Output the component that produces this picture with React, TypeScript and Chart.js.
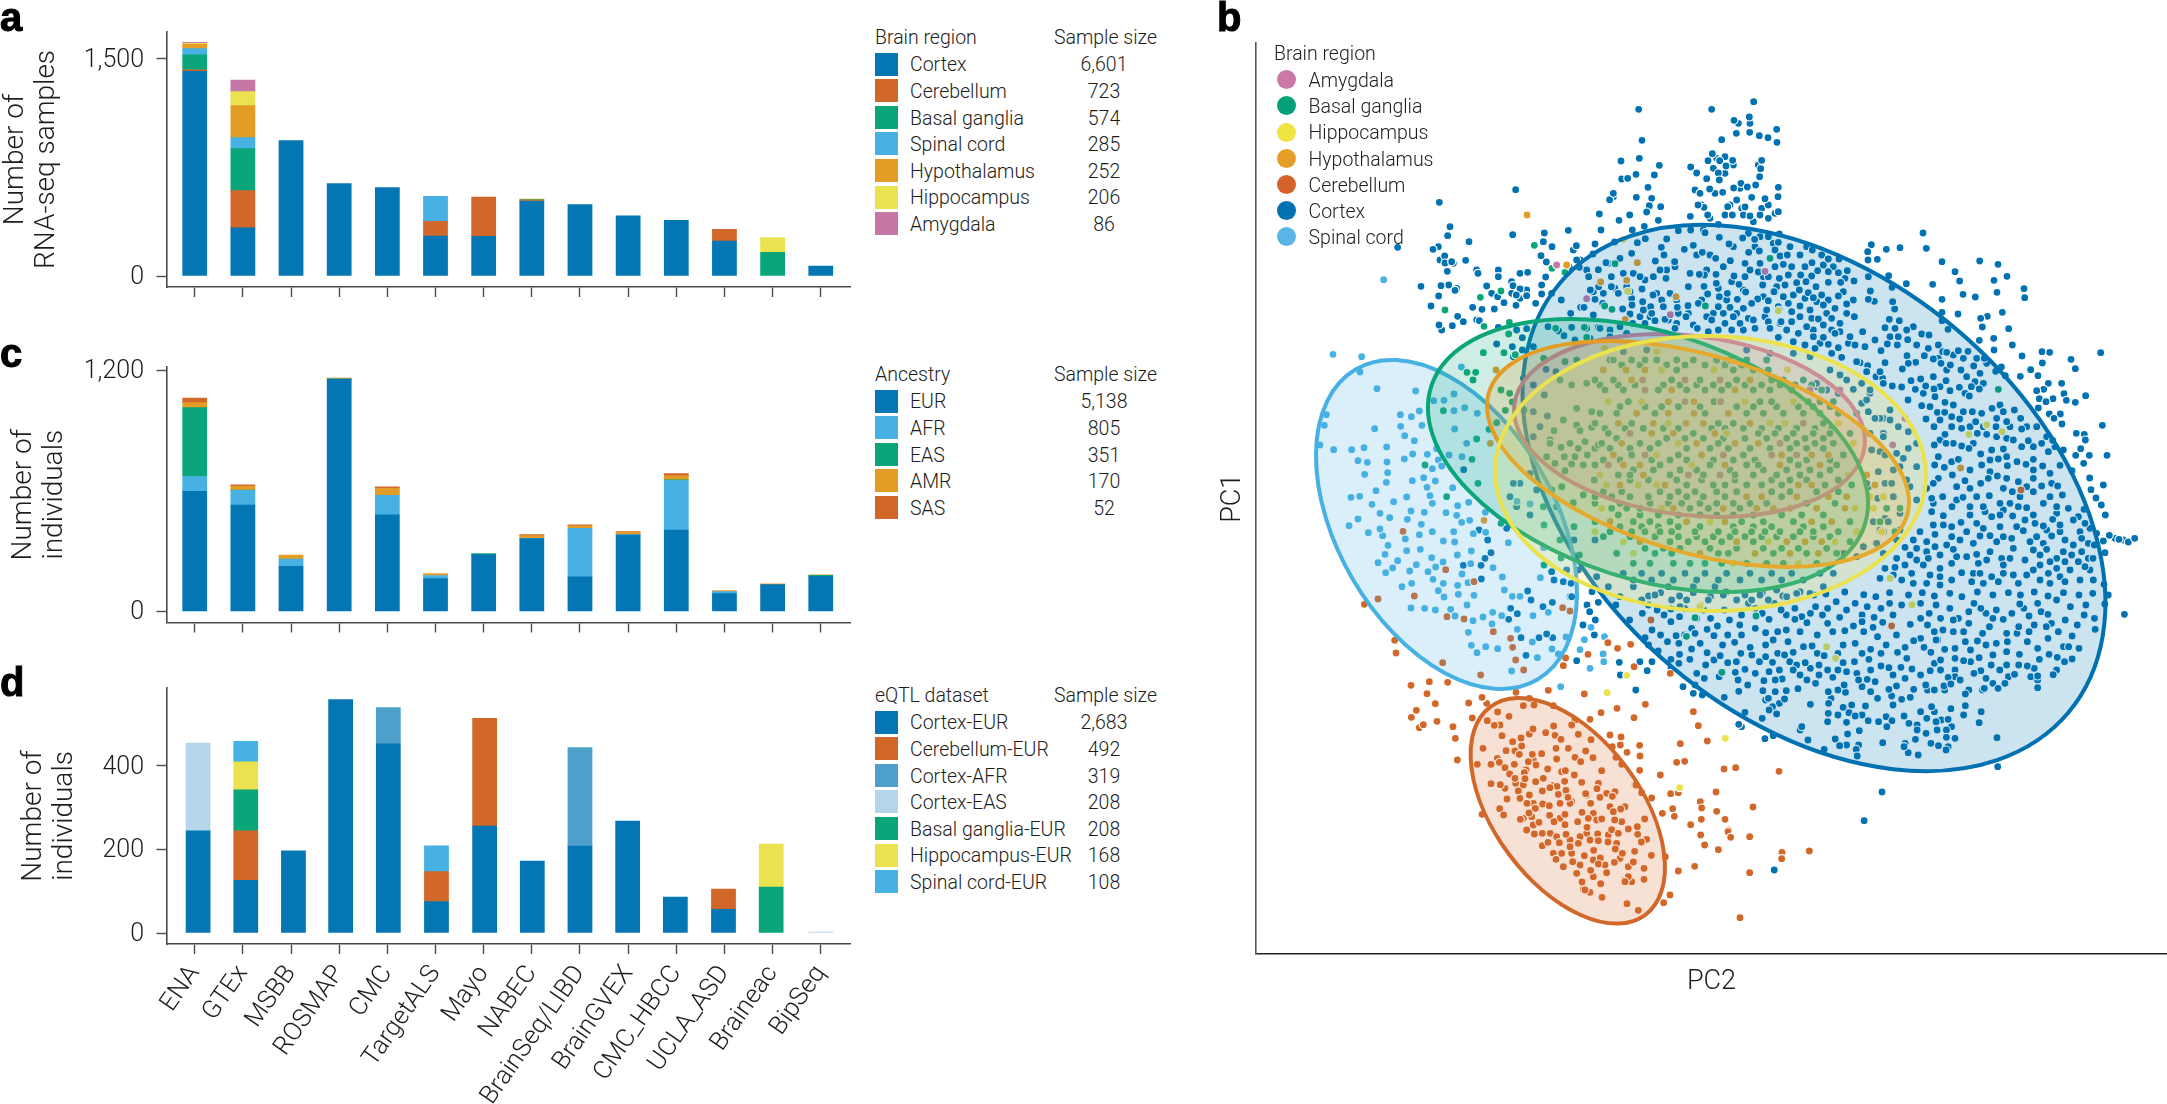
import React, { useEffect, useRef } from "react";
import { Chart, registerables } from "chart.js";

Chart.register(...registerables);

const INK = "#1d1d1b";
const AXIS = "#4a4a4a";
const BLUE = "#0376B3";
const RUST = "#D2672A";
const GREEN = "#0AA679";
const SKY = "#48B1E3";
const AMBER = "#E39C25";
const YELLOW = "#EAE24F";
const MAUVE = "#C578A5";
const AFR_BLUE = "#4F9FCB";
const EAS_BLUE = "#B5D5E8";

const categories = ["ENA", "GTEx", "MSBB", "ROSMAP", "CMC", "TargetALS", "Mayo", "NABEC", "BrainSeq/LIBD", "BrainGVEX", "CMC_HBCC", "UCLA_ASD", "Braineac", "BipSeq"];

// Panel a
const aCortex = [1415, 332, 935, 638, 611, 276, 274, 516, 493, 415, 385, 242, 0, 69];
const aCerebellum = [9, 258, 0, 0, 0, 102, 272, 5, 0, 0, 0, 81, 0, 0];
const aBasal = [104, 290, 0, 0, 0, 0, 0, 6, 0, 0, 0, 0, 164, 0];
const aSpinal = [43, 76, 0, 0, 0, 173, 0, 0, 0, 0, 0, 0, 0, 0];
const aHypothalamus = [30, 221, 0, 0, 0, 0, 0, 5, 0, 0, 0, 0, 0, 0];
const aHippocampus = [7, 97, 0, 0, 0, 0, 0, 0, 0, 0, 0, 0, 101, 0];
const aAmygdala = [7, 79, 0, 0, 0, 0, 0, 0, 0, 0, 0, 0, 0, 0];

// Panel c
const cEUR = [597, 529, 225, 1154, 481, 164, 283, 362, 172, 380, 405, 89, 134, 175];
const cAFR = [74, 73, 36, 0, 96, 15, 0, 2, 241, 2, 246, 10, 0, 0];
const cEAS = [342, 2, 0, 2, 0, 0, 5, 0, 0, 0, 4, 0, 0, 5];
const cAMR = [25, 19, 20, 2, 35, 9, 0, 13, 13, 13, 19, 5, 2, 2];
const cSAS = [23, 7, 0, 2, 8, 0, 0, 5, 5, 2, 12, 0, 1, 0];

// Panel d
const dBarPositions = [0.07, 1.06, 2.05, 3.03, 4.02, 5.02, 6.02, 7.01, 8, 8.99, 9.98, 10.98, 11.97, 13];
const dCortexEUR = [245, 126, 197, 559, 453, 75, 256, 172, 208, 268, 86, 57, 0, 0];
const dCerebellumEUR = [0, 119, 0, 0, 0, 72, 258, 0, 0, 0, 0, 48, 0, 0];
const dCortexAFR = [0, 0, 0, 0, 87, 0, 0, 0, 236, 0, 0, 0, 0, 0];
const dCortexEAS = [210, 0, 0, 0, 0, 0, 0, 0, 0, 0, 0, 0, 0, 2];
const dBasalEUR = [0, 98, 0, 0, 0, 0, 0, 0, 0, 0, 0, 0, 110, 0];
const dHippocampusEUR = [0, 67, 0, 0, 0, 0, 0, 0, 0, 0, 0, 0, 103, 0];
const dSpinalEUR = [0, 49, 0, 0, 0, 62, 0, 0, 0, 0, 0, 0, 0, 0];

// Legends
const aLegendNames = ["Cortex", "Cerebellum", "Basal ganglia", "Spinal cord", "Hypothalamus", "Hippocampus", "Amygdala"];
const aLegendSizes = ["6,601", "723", "574", "285", "252", "206", "86"];
const aLegendColors = [BLUE, RUST, GREEN, SKY, AMBER, YELLOW, MAUVE];
const cLegendNames = ["EUR", "AFR", "EAS", "AMR", "SAS"];
const cLegendSizes = ["5,138", "805", "351", "170", "52"];
const cLegendColors = [BLUE, SKY, GREEN, AMBER, RUST];
const dLegendNames = ["Cortex-EUR", "Cerebellum-EUR", "Cortex-AFR", "Cortex-EAS", "Basal ganglia-EUR", "Hippocampus-EUR", "Spinal cord-EUR"];
const dLegendSizes = ["2,683", "492", "319", "208", "208", "168", "108"];
const dLegendColors = [BLUE, RUST, AFR_BLUE, EAS_BLUE, GREEN, YELLOW, SKY];
const bLegendNames = ["Amygdala", "Basal ganglia", "Hippocampus", "Hypothalamus", "Cerebellum", "Cortex", "Spinal cord"];
const bLegendColors = ["#CB78A8", "#04A077", "#F0E442", "#E69F26", "#D5622A", "#0072B2", "#5BB4E6"];

// Panel b: ellipses [centre PC2, centre PC1, long radius, short radius, tilt in degrees]
const ellipseCerebellum = [1567.8, 810.8, 129.7, 73.1, 53.3];
const ellipseCortex = [1814, 498, 332.8, 220.8, 40.2];
const ellipseSpinal = [1446.5, 524.5, 179.8, 108.5, 59.6];
const ellipseAmygdala = [1689.5, 425.5, 176.4, 89.7, 6.8];
const ellipseBasal = [1648, 455.5, 227.5, 123.7, 17.6];
const ellipseHypothalamus = [1698, 454, 217.9, 98.9, 16.3];
const ellipseHippocampus = [1710.5, 473.5, 215.5, 137.5, 1];

const cortexUpper = [836,58,1055,58,1181,35,1168,81,1122,91,1129,130,1169,127,1198,137,1224,143,1250,118,1251,157,1085,149,846,151,838,205,783,213,898,226,883,255,828,253,785,267,803,265,992,231,1010,249,1057,191,1044,212,1079,212,1118,211,1098,228,1075,249,1040,266,1078,270,1202,236,1205,211,1199,260,1143,280,1162,291,1187,285,1121,294,1049,297,1088,307,1020,310,1255,292,1254,320,864,292,829,322,875,325,749,329,760,310,868,347,902,350,860,366,809,375,718,372,777,391,895,391,853,409,817,420,723,420,705,462,764,456,625,421,649,467,553,429,550,455,576,470,458,434,467,299,238,337,113,472,219,478,263,437,327,455,254,498,255,519,275,515,317,511,262,544,354,550,415,560,503,547,183,589,266,585,243,587,285,601,236,618,213,648,380,588,459,587,480,597,413,620,500,617,545,585,557,561,338,652,366,658,403,657,432,638,468,646,469,615,527,640,545,612,293,679,310,695,237,705,277,707,358,692,543,497,559,516,575,610,604,630,991,379,1043,375,1032,352,1014,345,1103,350,1155,351,1130,330,1175,322,1215,326,1117,375,1170,378,1200,375,1225,385,1255,365,1075,403,
955,422,992,420,1035,428,1078,442,1107,462,1148,444,1184,448,1225,440,1258,432,920,447,856,446,832,458,904,472,973,478,1000,466,1027,487,1067,505,1111,512,1166,487,1198,483,1155,520,1245,480,912,495,886,513,944,515,815,490,780,505,738,518,699,492,1200,520,1245,530,1033,555,990,550,1018,553,1068,553,1122,558,1155,560,1195,546,1225,560,918,565,880,560,840,560,790,550,754,560,715,539,686,560,658,532,627,530,985,590,1032,589,1069,580,1137,583,1208,585,1250,590,1102,610,1157,606,1193,627,1225,632,1132,628,1078,620,1043,612,905,630,879,615,846,597,810,605,775,610,754,590,716,590,691,600,728,640,705,628,662,652,632,670,672,652,700,675,788,657,848,635,850,660,816,645,810,672,872,650,910,650,952,652,984,647,978,680,950,700,915,688,885,692,875,670,1015,640,1075,650,1110,652,1150,655,1175,640,1220,660,1255,650,1120,680,1055,690,1095,700,1140,700,1180,690,1225,695,1012,715,1075,720,1115,720,1185,715,1230,715,1260,700,945,715,855,700,818,700,780,710,750,720,715,712,680,715,636,712,596,723,
415,712,487,743,500,716,470,720,410,762,457,770,487,780,460,800,635,712,564,710,612,737,645,750,690,745,720,715,750,740,800,730,520,770];

// partly hidden dots: the crescents showing behind the dots above
const cortexUpperHidden = [1135,100,1170,100,1070,205,1095,200,1120,225,1060,235,1095,250,1195,225,1140,295,1005,300,1065,310,1110,345,1145,355,1025,345,1050,385,1095,375,1150,375,1205,355,1225,345,1245,370,1180,395,1030,420,1165,430,1200,440,1185,470,1240,460,1120,470,1050,495,1010,495,870,350,790,265,760,320,640,480,660,510,350,540,270,410,240,510,280,520,235,470,480,550,455,575,500,600,290,595,350,690,245,720,415,540,395,610,455,610,480,625,
1040,540,1090,530,1170,540,1210,560,1075,595,1115,575,1150,600,1210,620,1245,605,1100,630,1025,630,1060,670,1040,680,1090,670,1130,670,1165,685,1215,680,950,630,930,610,955,670,985,670,925,690,840,680,870,680,815,625,765,595,730,610,800,590,920,540,900,540,945,530,855,570,890,610,820,550,745,520,680,540,650,510,700,605,720,575,1000,705,1045,725,1150,720];

const cortexRight = [459,9,304,44,349,58,390,53,469,55,293,65,322,88,294,90,516,95,629,93,684,103,555,125,569,153,711,139,672,151,488,163,409,161,762,176,681,187,579,193,616,201,764,203,516,208,313,214,295,208,301,183,356,137,366,172,374,237,368,215,564,252,516,247,516,272,697,247,652,259,632,265,637,291,716,296,534,298,671,325,628,331,727,345,672,360,756,378,816,365,839,367,992,368,903,388,817,399,916,416,782,419,643,385,694,411,677,424,706,437,751,439,804,437,835,460,875,460,821,478,800,482,882,491,947,497,849,506,808,506,828,515,916,517,889,511,805,534,838,552,871,552,852,565,876,582,997,586,919,610,943,613,946,630,848,631,880,660,932,656,917,676,958,676,1011,676,871,703,941,700,906,722,959,744,1000,765,963,779,978,804,877,795,863,768,994,825,1006,855,942,838,980,910,1000,933,1018,916,1075,936,1094,925,1047,928,973,945,1005,968,969,985,1002,1063,
25,37,30,78,52,75,90,75,127,60,175,87,207,87,126,98,40,103,28,145,55,135,92,135,125,138,143,122,175,125,205,128,232,122,252,153,295,140,12,185,45,165,80,158,108,155,138,170,175,157,212,157,88,180,115,188,155,195,205,198,250,210,55,220,90,228,130,203,120,240,160,225,195,235,230,222,28,240,230,250,253,260,33,275,65,275,145,267,185,265,110,290,160,285,210,305,240,320,50,300,85,310,130,320,160,322,195,310,278,305,358,268,388,272,345,293,315,330,385,320,413,329,455,312,477,315,352,342,382,345,25,322,105,345,175,343,205,353,255,345,285,350,333,362,135,355,215,382,185,370,270,398,293,407,345,398,411,377,463,377,490,387,518,365,565,362,594,364,530,367,437,397,415,400,397,417,318,440,338,445,423,452,452,447,467,468,541,405,573,420,611,408,513,400,630,430,367,468,395,471,436,478,492,477,528,452,568,472,604,470,628,477,540,482,495,500,598,498,414,510,455,527,525,517,550,525,607,545,700,545,733,540,666,535,502,547,524,547,468,567,569,567,617,575,680,565,752,565,710,575,492,590,575,595,622,610,650,613,678,590,755,597,800,590,525,613,575,648,597,655,665,660,632,672,700,657,730,630,775,632,815,640,493,645,528,640,835,665,494,705,523,712,565,688,635,705,685,687,712,707,741,695,790,688,768,703,818,708,870,706,547,735,585,752,632,760,682,738,655,745,790,745,745,755,815,768,470,775,490,760,518,800,579,802,620,800,658,797,700,775,840,800,790,785,750,800,727,785,485,805,546,830,600,830,640,830,690,820,720,820,770,833,820,820,860,830,895,835,910,870,848,868,728,858,690,855,485,845,520,857,573,877,620,880,665,860,765,870,795,880,820,888,870,885,945,880,450,905,490,885,520,885,590,905,630,918,660,917,700,920,760,902,800,920,845,918,885,930,935,925,495,913,430,930,470,935,545,920,570,930,405,952,440,955,495,950,550,958,620,973,660,965,695,985,730,955,790,960,830,958,880,965,935,965,380,985,420,975,475,985,510,975,590,980,765,990,840,995,885,995,925,995,405,1005,460,1005,545,1000,625,1000,700,1005,810,1005,345,1015,375,1012,425,1030,480,1035,510,1015,575,1028,630,1030,665,1040,730,1035,770,1035,835,1030,870,1040,945,1010,330,1045,395,1050,470,1060,545,1050,605,1055,685,1055,810,1050,885,1055,930,1050,970,1050];

const cortexRightHidden = [60,50,110,50,155,75,65,110,105,110,160,105,190,110,225,145,70,195,105,205,140,215,175,210,220,185,40,200,65,245,90,260,125,265,170,250,210,280,130,300,185,300,70,335,150,340,235,340,375,295,430,290,360,320,410,300,440,345,475,355,505,345,505,385,550,375,580,385,620,385,530,420,590,440,650,400,490,440,460,490,510,470,585,490,615,455,640,460,480,530,510,570,545,560,580,545,635,550,690,525,720,590,770,590,640,590,600,590,545,590,510,630,550,640,610,640,680,620,710,625,755,650,790,650,830,620,855,650,505,680,545,695,600,720,660,690,660,725,710,680,790,720,840,730,845,760,770,770,710,745,600,775,560,770,505,745,490,820,560,810,600,855,645,845,700,840,745,830,790,855,860,850,925,860,960,895,930,905,870,905,830,900,740,890,690,890,640,895,545,890,610,940,680,935,725,925,780,935,820,940,910,945,955,940,530,945,470,965,560,980,650,990,720,985,810,975,860,985,905,975,955,985,440,990,510,1040,610,1030,700,1030,790,1020,860,1015,900,1020,960,1020,745,1060,840,1060,640,1060,370,1035,430,1060,510,1065,1035,925,1060,930];

const cortexLower = [25,37,75,45,152,70,115,90,195,60,235,57,275,55,330,60,295,115,340,118,370,108,405,90,435,105,480,55,520,88,555,60,595,88,595,55,630,98,640,70,675,75,725,82,770,40,715,35,765,108,795,125,825,82,845,55,850,97,822,112,905,45,930,103,985,70,1018,85,1045,55,1100,65,1135,55,1170,85,1200,88,1180,60,1248,42,1275,78,1310,65,1355,30,1380,90,1415,105,1465,85,1505,15,1495,42,1467,118,1552,73,1330,73,1245,110,1290,105,1160,110,1100,100,1025,120,1085,125,980,105,235,95,180,120,205,135,250,137,160,143,305,130,360,137,400,135,420,157,465,172,510,128,510,165,532,150,575,155,545,125,660,135,705,125,740,122,735,165,770,160,815,178,860,165,915,172,940,152,1000,125,1030,178,1125,153,1180,160,1212,155,1270,155,1330,145,1360,125,1400,138,1090,155,1055,125,258,160,295,177,340,188,378,197,438,190,198,183,235,208,260,193,290,208,258,220,336,225,400,218,422,247,450,238,492,215,530,217,565,195,590,187,510,200,620,170,645,168,680,197,735,218,768,215,810,208,893,187,970,172,990,187,1060,205,1018,210,1085,212,1130,203,1170,195,1210,185,1247,193,1305,208,1333,193,1357,202,1390,170,1400,207,1378,215,1270,228,1233,253,1280,260,1300,258,1345,254,1300,293,1185,295,1205,280,1145,295,1150,265,1190,240,1135,242,1115,250,1075,270,1040,262,1028,288,1048,282,1000,300,988,242,1018,240,975,285,935,237,903,232,845,228,868,233,890,288,940,298,876,318,905,328,930,322,868,298,828,275,805,268,775,250,780,270,815,305,835,325,745,245,705,262,690,240,665,225,640,235,625,218,630,270,655,280,692,305,742,307,738,285,693,340,640,343,604,296,570,302,565,327,558,267,538,270,505,272,502,302,538,305,518,325,520,360,542,372,500,385,458,285,432,304,332,265,390,322,450,367,432,403,270,290,305,285,326,315,166,242,180,215,145,215,85,217,88,255,133,300,692,370,735,352,752,368,800,348,808,392,770,378,838,395,877,392,912,378,926,400,862,410,950,420,976,430,1008,420,1035,420,1035,442,1060,445,992,350,978,385,1040,388,1048,356,1085,375,1090,347,1090,312,1136,365,1130,398,945,448,1012,467,1034,480,953,495,924,488,912,470,850,458,782,422,748,432,745,397,712,447,725,467,773,478,776,498,680,478,633,450,615,410,508,446,532,437,1182,443,1184,530,848,606,796,692,535,840,
685,12,740,6,795,14,830,20,870,8,925,15,965,8,1000,18,1045,10,1080,20,1125,6,1170,15,1215,8,1250,15,1290,6,1330,18,1375,8,1420,15,1460,10,650,15,610,5,560,18,500,8,450,15,395,6,350,20,300,8,260,18,205,8,170,18];

const cortexLowerHidden = [170,45,215,75,260,80,310,85,350,85,390,60,440,75,460,40,500,70,535,40,570,75,615,80,655,50,690,55,745,60,790,75,805,50,870,40,880,75,960,40,960,85,1005,45,1070,85,1115,40,1150,70,1225,70,1260,55,1300,40,1340,100,1395,50,1435,75,1440,45,1325,110,1275,125,1210,130,1140,130,1055,90,1010,150,960,145,890,135,835,140,790,95,690,100,610,125,570,120,480,115,440,135,385,165,320,160,275,135,225,155,170,165,360,210,425,215,470,195,545,190,580,215,600,225,660,190,720,190,790,190,845,190,920,205,1005,150,1060,175,1105,180,1150,165,1240,130,1300,175,1375,170,1420,175,1355,240,1290,235,1245,225,1210,225,1165,225,1105,215,1060,240,1000,220,960,255,915,265,880,255,815,240,790,290,720,240,665,255,610,255,590,240,550,240,520,245,480,250,430,270,375,260,310,250,235,235,510,330,550,340,530,350,700,325,720,300,760,345,720,375,690,395,790,375,860,380,960,365,1000,365,1020,390,1030,300,1060,260,1100,300,1140,300,1170,280,1215,260,1300,270,950,405,1005,395,1050,410,915,460,990,460,1040,470,610,420,745,465,780,465,980,300,880,345,440,410,300,310];

const cortexWest = [491,389,563,600,537,570,573,638,555,655,543,676,490,676,544,717,683,753,693,780,632,805,652,821,626,838,729,800,757,787,810,770,876,755,895,787,861,795,886,840,849,855,883,885,869,815,755,695,790,725,813,730,762,720,663,893,717,893,758,893,740,882,678,946,830,962,815,770,700,135,733,165,670,115,738,88,768,95,700,215,742,228,720,260,700,290,690,400,660,430,640,430,710,450,650,500,630,470,690,525,620,565,822,600,885,600,800,690,835,690,890,710,885,575];

const cortexCore = [100,700,155,700,215,700,285,700,345,700,410,700,480,700,545,700,605,700,690,700,55,740,130,740,235,740,310,740,375,740,155,780,245,780,290,780,355,780,440,780,485,780,535,780,270,800,680,130,750,105,800,65,870,95,880,290,955,325,900,240,840,150,880,130,950,420,930,520,890,505,910,470,930,380,870,570,915,575,840,280,815,190,745,160,830,95,815,130,870,235,60,60,760,640,800,650,880,640,920,600,820,620,700,740,620,760,560,750,130,720,185,720,250,720,320,720,385,720,450,720,515,720,575,720,640,720,90,770,195,765,400,765,510,765,590,770,660,760,730,700,860,610,895,545,850,545,830,430,905,430,865,395,920,340,885,345,845,330,855,235,830,180,770,120,720,90,660,50,610,40,540,40,470,30,170,30,100,35];

const bandCortexRight = [210,433,140,470,170,480,250,478,275,520,300,490,295,545,340,565,360,540,385,590,415,605,340,610,440,640,415,655,330,665,400,685,440,710,370,720,345,760,323,805,390,850,345,865,440,810,390,900,340,905,420,770,295,770];

const cerebellumHidden = [352,235,425,198,405,213,438,270,460,240,433,278,407,310,375,325,430,315,518,317,545,275,560,340,575,365,620,345,655,310,705,335,690,380,735,380,640,400,460,370,455,410,430,415,460,435,487,460,540,415,570,370,540,370,625,415,650,420,725,425,620,460,685,465,600,470,570,480,710,490,800,478,520,520,545,520,575,520,600,555,640,540,675,555,720,535,590,580,640,590,610,628,755,605,735,600,360,135,320,70,118,143,765,315,680,340,900,325,1205,520,1045,450,965,385];

const cerebellumDots = [94,16,147,7,203,8,142,42,166,71,266,69,308,53,109,91,94,112,130,134,171,124,219,140,226,175,277,114,232,240,292,253,309,205,322,122,343,136,366,167,353,96,387,109,430,77,462,75,520,77,448,55,505,31,613,42,663,98,711,85,796,73,762,113,630,118,585,120,521,138,497,158,525,166,543,178,595,163,575,135,633,179,690,165,723,171,721,195,697,200,779,196,741,217,780,228,708,232,725,253,779,271,841,285,768,315,785,338,815,354,872,341,895,338,847,400,878,386,883,409,932,434,794,417,961,365,965,384,964,418,1010,394,1008,336,1035,418,1119,381,1044,455,1052,472,962,465,974,495,1015,509,1109,470,1206,517,1205,536,1288,513,1109,578,944,559,895,573,856,530,814,526,792,565,792,598,870,645,851,668,741,671,775,691,1080,713,940,95,955,137,982,183,901,191,914,244,890,247,1032,267,1067,263,1197,274,665,272,
398,185,378,212,423,174,448,162,459,147,333,253,358,247,375,263,403,253,418,223,445,245,468,255,457,223,485,221,503,267,530,237,528,205,565,205,585,232,617,213,602,245,639,233,556,272,583,285,605,307,554,304,490,295,435,296,467,305,389,282,405,295,333,311,361,314,415,333,487,333,531,319,510,323,558,331,448,345,420,355,381,357,359,386,371,405,306,403,441,370,488,372,535,343,564,352,617,341,651,326,660,352,697,349,632,370,508,377,466,385,447,399,509,406,555,403,606,397,722,387,700,395,665,417,704,420,421,418,477,427,522,425,555,434,593,425,621,442,695,449,745,447,772,440,440,450,463,462,511,460,558,463,530,470,653,462,715,460,773,463,630,480,684,486,784,486,487,497,504,487,538,488,595,490,570,500,655,482,706,507,641,511,727,520,764,514,528,538,578,545,613,527,661,534,550,560,655,552,703,547,745,560,760,546,632,571,680,578,606,606,662,611,745,590,630,637,666,652,615,630,735,605];

const cerebellumWest = [309,574,437,689,343,768,234,777,441,830,492,837,580,875,632,895,638,922,647,960,671,990,542,1005,428,968,788,803,810,813,522,725,193,793,284,901,288,939,333,1036,388,1025,443,1027,381,1061,546,1072,745,1051,853,1062,648,1057,864,943,797,954,790,977];
const cerebellumSouth = [118,163,80,175,128,230,233,250,52,158];

const spinalDots = [99,43,184,51,180,96,231,146,347,153,79,224,73,256,60,315,101,329,224,266,301,224,334,230,358,213,302,259,366,256,314,287,343,302,260,321,155,329,192,323,174,362,202,367,261,366,194,403,263,398,259,427,313,357,338,342,382,343,410,326,415,360,397,386,425,378,447,345,486,350,500,310,464,267,401,182,432,181,462,162,462,212,494,203,532,220,484,81,337,422,371,413,381,442,406,423,228,452,153,472,179,469,216,493,281,485,320,471,390,467,397,490,458,443,438,518,473,497,506,487,470,526,556,517,240,520,269,533,333,513,373,517,322,538,364,553,147,557,174,537,205,578,248,587,240,567,316,597,358,584,397,575,461,575,485,547,509,541,430,603,464,606,520,581,557,577,264,616,320,632,361,628,255,643,234,668,293,662,349,674,395,653,429,666,472,645,514,633,512,671,278,684,257,698,329,693,384,695,407,681,486,702,579,683,625,608,607,711,399,718,430,730,306,740,335,730,473,736,504,728,613,750,415,752,432,771,475,763,522,766,637,769,660,769,333,804,374,805,406,810,452,808,501,795,465,828,549,831,578,817,605,827,519,842,576,852,699,827,745,817,505,877,652,868,697,906,798,891,514,916,557,920,593,926,531,938,712,953,756,927,775,942,840,929,853,899,875,862,635,993,870,985,782,1040,721,713,731,623,690,492,651,484];
const spinalExtraUpper = [71,569,5,800];
const spinalExtraLower = [42,140,38,192,40,215,3,112,0,235];

const basalUpper = [523,466,576,535,615,547,361,622,423,603,255,660,448,697,372,709,446,732,370,788,432,788,765,521,734,648,756,658,1036,648,1229,505,680,742,587,715,673,712,551,805];
const basalWest = [375,375,440,470,534,430,516,358,530,297,430,212,519,120,501,97,527,97,550,38,612,38,646,44,603,150,629,160,637,186,616,211,672,210,590,248,567,268,750,300,732,675,603,550,783,654,838,645,780,120,815,135,860,130,795,65,830,60,790,240,830,255,875,215,830,205,762,272,840,272,875,262,750,310,810,310,855,305,895,315,783,322,835,325,740,350,825,350,793,350,862,345,765,370,815,372,850,375,795,392,883,420,755,450,785,440,820,488,885,490,850,465,770,500,730,500,732,555,780,600,822,560];
const basalOther = [685,478,0,85];
const basalLower = [305,83,280,139,383,247,482,78];
const basalCore = [70,60,125,60,165,60,200,60,260,60,310,60,380,60,470,60,530,60,260,90,430,90,490,90,535,90,15,120,70,120,245,120,330,120,440,120,545,120,580,120,640,120,45,150,100,150,205,150,290,150,345,150,395,150,490,150,540,150,605,150,695,150,115,185,372,185,510,185,545,185,655,185,690,185,730,185,30,220,80,220,195,220,345,220,470,220,520,220,580,220,640,220,690,220,745,220,800,220,15,250,125,250,385,250,430,250,700,250,55,280,310,280,505,280,555,280,610,280,670,280,720,280,780,280,35,310,150,310,205,310,385,310,620,310,675,310,730,310,125,345,265,345,460,345,760,345,15,375,210,375,360,375,470,375,505,375,625,375,740,375,85,405,120,405,240,405,340,405,435,405,490,405,560,405,630,405,690,405,290,435,370,435,405,435,470,435,515,435,575,435,705,435,785,435,15,470,65,470,120,470,175,470,240,470,290,470,340,470,405,470,575,470,65,505,110,505,150,505,300,505,355,505,450,505,890,505,930,505,15,545,130,545,180,545,240,545,455,545,520,545,610,545,780,545,870,545,60,575,125,575,165,575,210,575,245,575,315,575,385,575,435,575,485,575,525,575,570,575,630,575,670,575,745,575,915,575,240,605,295,605,345,605,395,605,490,605,780,605,80,640,195,640,245,640,385,640,415,640,550,640,650,640,740,640,130,670,180,670,250,670,300,670,345,670,395,670,470,670,530,670,580,670,680,670];
const basalCoreHidden = [95,75,150,75,230,75,285,75,345,75,405,75,455,75,515,135,570,135,615,135,665,135,30,135,85,135,135,135,220,135,270,135,320,135,370,135,415,135,465,135,90,200,165,200,215,200,265,200,330,200,440,200,490,200,560,200,625,200,670,200,720,200,45,265,105,265,160,265,220,265,265,265,365,265,405,265,460,265,515,265,565,265,620,265,675,265,725,265,80,295,230,295,285,295,340,295,400,295,465,295,530,295,590,295,645,295,700,295,15,325,60,325,120,325,180,325,290,325,360,325,415,325,480,325,540,325,600,325,650,325,700,325,40,360,90,360,185,360,240,360,290,360,370,360,430,360,495,360,600,360,650,360,720,360,130,390,190,390,270,390,320,390,420,390,520,390,590,390,660,390,720,390,15,420,120,420,175,420,260,420,335,420,435,420,545,420,600,420,650,420,745,420,40,455,95,455,210,455,265,455,315,455,380,455,440,455,545,455,600,455,680,455,745,455,90,490,180,490,235,490,275,490,330,490,380,490,430,490,480,490,530,490,650,490,735,490,85,525,150,525,205,525,265,525,330,525,380,525,430,525,490,525,575,525,635,525,700,525,90,560,155,560,205,560,265,560,330,560,430,560,490,560,545,560,640,560,700,560,40,590,120,590,195,590,265,590,320,590,370,590,420,590,465,590,515,590,560,590,610,590,670,590,720,590,165,625,220,625,270,625,360,625,440,625,520,625,575,625,625,625,710,625];

const hypothalamusUpper = [501,375,620,525,832,518,722,576,800,571,948,620,796,688];
const hypothalamusWest = [552,541,571,310,588,90];
const hypothalamusRight = [572,714];
const hypothalamusCore = [420,60,40,90,108,90,165,90,125,120,480,120,245,150,435,150,235,185,312,185,140,220,235,220,312,220,415,220,85,250,190,250,288,250,340,250,480,250,185,280,250,280,375,280,95,310,320,310,435,310,505,310,70,345,335,345,575,345,665,345,715,345,100,375,150,375,405,375,570,375,690,375,160,405,830,405,90,435,225,435,625,435,665,435,855,435,470,470,515,470,620,470,715,470,770,470,250,505,400,505,500,505,550,505,600,505,680,505,765,505,60,545,290,545,405,545,665,545,725,545,150,605,440,605,590,605,645,605,695,605,330,640,495,640,600,640,685,640];

const hippocampusUpper = [803,604,1255,662,734,775,790,448];
const hippocampusLower = [687,170,713,205,935,44,322,45,107,256,50,308,393,445,260,593];
const hippocampusRight = [25,242,597,613,650,585,696,605,360,1045];
const hippocampusCore = [200,35,215,90,372,90,592,90,55,185,155,185,465,185,610,185,235,250,540,250,585,250,745,250,410,280,265,310,790,310,200,345,305,375,30,405,775,405,50,435,145,435,200,435,840,470,880,470,35,505,215,505,795,505,850,505,360,545,15,575,800,575,875,575,100,605,535,605,735,605,130,640,430,670,625,670,330,800];

const amygdalaUpper = [680,626,931,674,1215,544,590,525];
const amygdalaRight = [368,645,405,565];
const amygdalaCore = [158,120,285,120,390,120,165,150,660,150,750,150,285,185,392,185,640,250,120,280,570,310,165,345,400,345,545,345,620,345,55,375,295,405,390,405];

const cerebellumOther = [753,780];
const cerebellumLower = [177,90,876,108];

// Reads a flat x,y list from an enlarged view back to the figure's own PC2/PC1 values
const readView = (list: number[], left: number, top: number, zoomX = 3, zoomY = 3) => {
  const out: { x: number; y: number }[] = [];
  for (let i = 0; i < list.length; i += 2) out.push({ x: left + list[i] / zoomX, y: top + list[i + 1] / zoomY });
  return out;
};

const FONT = "Roboto, 'Liberation Sans', sans-serif";

type PanelOpts = {
  top: number;
  yMin: number;
  yMax: number;
  yTicks: number[];
  title: string[];
  titlePad: number;
  showLabels?: boolean;
  bottomSpace: number;
};

const xMin = -0.586;
const xMax = 13.607;

function barOptions(p: PanelOpts): any {
  return {
    responsive: false,
    animation: false,
    maintainAspectRatio: false,
    layout: { autoPadding: false, padding: { top: p.top, right: 10, left: 0, bottom: 0 } },
    plugins: { legend: { display: false }, tooltip: { enabled: false } },
    scales: {
      x: {
        type: "linear",
        stacked: true,
        offset: false,
        min: xMin,
        max: xMax,
        afterBuildTicks: (s: any) => {
          s.ticks = categories.map((_, i) => ({ value: i }));
        },
        afterFit: (s: any) => {
          s.height = p.bottomSpace;
        },
        grid: { offset: false, drawOnChartArea: false, drawTicks: true, tickLength: 10, tickColor: AXIS, tickWidth: 1.4 },
        border: { display: true, color: AXIS, width: 1.6 },
        ticks: {
          display: !!p.showLabels,
          autoSkip: false,
          minRotation: 55,
          maxRotation: 55,
          padding: 6,
          color: INK,
          font: { family: FONT, size: 25.5, weight: 300 },
          callback: (v: number) => categories[v] ?? "",
        },
      },
      y: {
        stacked: true,
        min: p.yMin,
        max: p.yMax,
        afterBuildTicks: (s: any) => {
          s.ticks = p.yTicks.map((value) => ({ value }));
        },
        afterFit: (s: any) => {
          s.width = 166.5;
        },
        grid: { drawOnChartArea: false, drawTicks: true, tickLength: 10, tickColor: AXIS, tickWidth: 1.4 },
        border: { display: true, color: AXIS, width: 1.6 },
        ticks: {
          padding: 12.5,
          labelOffset: 1.5,
          color: INK,
          font: { family: FONT, size: 25, weight: 300 },
          callback: (v: number) => v.toLocaleString("en-US"),
        },
        title: {
          display: true,
          text: p.title,
          color: INK,
          padding: { top: p.titlePad, bottom: 0 },
          font: { family: FONT, size: 28, weight: 300, lineHeight: 1.107 },
        },
      },
    },
  };
}

function stackDatasets(list: { label: string; color: string; values: number[] }[], positions?: number[]) {
  return list.map((s) => ({
    label: s.label,
    backgroundColor: s.color,
    barThickness: 24.1,
    borderWidth: 0,
    data: s.values.map((v, i) => ({ x: positions ? positions[i] : i, y: v === 0 ? null : v })),
  }));
}

const BarPanel: React.FC<{ canvasTop: number; canvasHeight: number; opts: PanelOpts; sets: any[] }> = ({ canvasTop, canvasHeight, opts, sets }) => {
  const ref = useRef<HTMLCanvasElement>(null);
  useEffect(() => {
    const chart = new Chart(ref.current as HTMLCanvasElement, { type: "bar", data: { datasets: sets }, options: barOptions(opts) });
    return () => chart.destroy();
  }, []);
  return <canvas ref={ref} width={860} height={canvasHeight} style={{ position: "absolute", left: 0, top: canvasTop, width: 860, height: canvasHeight }} />;
};

const ellipsePlugin = {
  id: "ellipses",
  afterDatasetsDraw(chart: any) {
    const { ctx, scales } = chart;
    const list: [number[], string][] = [
      [ellipseCerebellum, "210,103,42"],
      [ellipseCortex, "0,114,178"],
      [ellipseSpinal, "72,177,227"],
      [ellipseAmygdala, "197,120,165"],
      [ellipseBasal, "10,166,121"],
      [ellipseHypothalamus, "227,156,37"],
      [ellipseHippocampus, "234,226,79"],
    ];
    const sx = Math.abs(scales.x.getPixelForValue(1) - scales.x.getPixelForValue(0));
    const sy = Math.abs(scales.y.getPixelForValue(1) - scales.y.getPixelForValue(0));
    for (const [e, rgb] of list) {
      ctx.save();
      ctx.beginPath();
      ctx.ellipse(scales.x.getPixelForValue(e[0]), scales.y.getPixelForValue(e[1]), e[2] * sx, e[3] * sy, (e[4] * Math.PI) / 180, 0, Math.PI * 2);
      ctx.fillStyle = `rgba(${rgb},0.2)`;
      ctx.fill();
      ctx.lineWidth = 4;
      ctx.strokeStyle = `rgb(${rgb})`;
      ctx.stroke();
      ctx.restore();
    }
  },
};

const ScatterPanel: React.FC = () => {
  const ref = useRef<HTMLCanvasElement>(null);
  useEffect(() => {
    const group = (label: string, color: string, points: { x: number; y: number }[], order: number) => ({
      label,
      data: points,
      order,
      backgroundColor: color,
      borderColor: "#ffffff",
      pointRadius: 4,
      pointBorderWidth: 1.2,
      pointBorderColor: "#ffffff",
      pointBackgroundColor: color,
      showLine: false,
    });
    const cortex = [
      ...readView(cortexUpperHidden, 1360, 90),
      ...readView(cortexRightHidden, 1770, 230),
      ...readView(cortexLowerHidden, 1590, 590, 2.904, 3),
      ...readView(cortexUpper, 1360, 90),
      ...readView(cortexRight, 1770, 230),
      ...readView(bandCortexRight, 1770, 230),
      ...readView(cortexLower, 1590, 590, 2.904, 3),
      ...readView(cortexWest, 1300, 340),
      ...readView(cortexCore, 1590, 340),
    ];
    const cerebellum = [
      ...readView(cerebellumHidden, 1380, 680),
      ...readView(cerebellumDots, 1380, 680),
      ...readView(cerebellumWest, 1300, 340),
      ...readView(cerebellumSouth, 1590, 590, 2.904, 3),
      ...readView(cerebellumOther, 1770, 230),
      ...readView(cerebellumLower, 1590, 590, 2.904, 3),
    ];
    const spinal = [
      ...readView(spinalDots, 1300, 340),
      ...readView(spinalExtraUpper, 1360, 90),
      ...readView(spinalExtraLower, 1590, 590, 2.904, 3),
    ];
    const basal = [
      ...readView(basalCoreHidden, 1590, 340),
      ...readView(basalUpper, 1360, 90),
      ...readView(basalWest, 1300, 340),
      ...readView(basalOther, 1770, 230),
      ...readView(basalLower, 1590, 590, 2.904, 3),
      ...readView(basalCore, 1590, 340),
    ];
    const hypothalamus = [
      ...readView(hypothalamusUpper, 1360, 90),
      ...readView(hypothalamusWest, 1300, 340),
      ...readView(hypothalamusRight, 1770, 230),
      ...readView(hypothalamusCore, 1590, 340),
    ];
    const hippocampus = [
      ...readView(hippocampusUpper, 1360, 90),
      ...readView(hippocampusLower, 1590, 590, 2.904, 3),
      ...readView(hippocampusRight, 1770, 230),
      ...readView(hippocampusCore, 1590, 340),
    ];
    const amygdala = [
      ...readView(amygdalaUpper, 1360, 90),
      ...readView(amygdalaRight, 1770, 230),
      ...readView(amygdalaCore, 1590, 340),
    ];
    const chart = new Chart(ref.current as HTMLCanvasElement, {
      type: "scatter",
      data: {
        datasets: [
          group("Cortex", "#0072B2", cortex, 7),
          group("Spinal cord", SKY, spinal, 6),
          group("Cerebellum", RUST, cerebellum, 5),
          group("Basal ganglia", GREEN, basal, 4),
          group("Hypothalamus", AMBER, hypothalamus, 3),
          group("Hippocampus", YELLOW, hippocampus, 2),
          group("Amygdala", MAUVE, amygdala, 1),
        ],
      },
      plugins: [ellipsePlugin],
      options: {
        responsive: false,
        animation: false,
        maintainAspectRatio: false,
        layout: { autoPadding: false, padding: { top: 43, right: 0, left: 0, bottom: 0 } },
        plugins: { legend: { display: false }, tooltip: { enabled: false } },
        scales: {
          x: {
            type: "linear",
            min: 1256,
            max: 2167,
            afterFit: (s: any) => {
              s.height = 150.5;
            },
            grid: { display: false, drawTicks: false },
            border: { display: true, color: "#222", width: 1.6 },
            ticks: { display: false },
            title: { display: true, text: "PC2", color: INK, padding: { top: 0, bottom: 105.8 }, font: { family: FONT, size: 27, weight: 300, lineHeight: 1.2 } },
          },
          y: {
            type: "linear",
            reverse: true,
            min: 43,
            max: 953.5,
            afterFit: (s: any) => {
              s.width = 56;
            },
            grid: { display: false, drawTicks: false },
            border: { display: true, color: "#555", width: 1.6 },
            ticks: { display: false },
            title: { display: true, text: "PC1", color: INK, padding: { top: 17.5, bottom: 0 }, font: { family: FONT, size: 27, weight: 300, lineHeight: 1.2 } },
          },
        },
      } as any,
    });
    return () => chart.destroy();
  }, []);
  return <canvas ref={ref} width={967} height={1104} style={{ position: "absolute", left: 1200, top: 0, width: 967, height: 1104 }} />;
};

const textBase: React.CSSProperties = { position: "absolute", fontFamily: FONT, fontWeight: 300, fontSize: 19.5, color: INK, whiteSpace: "nowrap", lineHeight: "26px", height: 26 };

const SwatchLegend: React.FC<{ titleY: number; title: string; names: string[]; sizes: string[]; colors: string[] }> = ({ titleY, title, names, sizes, colors }) => (
  <>
    <div style={{ ...textBase, left: 875, top: titleY - 11.6 }}>{title}</div>
    <div style={{ ...textBase, left: 1054, width: 100, textAlign: "center", top: titleY - 11.6 }}>Sample size</div>
    {names.map((n, i) => {
      const y = titleY + 27 + i * 26.6;
      return (
        <React.Fragment key={n}>
          <div style={{ position: "absolute", left: 875, top: y - 11.5, width: 23, height: 23, background: colors[i] }} />
          <div style={{ ...textBase, left: 910, top: y - 11.6 }}>{n}</div>
          <div style={{ ...textBase, left: 1054, width: 100, textAlign: "center", top: y - 11.6 }}>{sizes[i]}</div>
        </React.Fragment>
      );
    })}
  </>
);

const letter = (t: string, left: number, top: number) => (
  <div key={t} style={{ position: "absolute", left, top, fontFamily: "'Liberation Sans', sans-serif", fontWeight: 700, fontSize: 40, lineHeight: "40px", color: "#000", WebkitTextStroke: "1px #000" }}>{t}</div>
);

export default function App() {
  const aSets = stackDatasets([
    { label: "Cortex", color: BLUE, values: aCortex },
    { label: "Cerebellum", color: RUST, values: aCerebellum },
    { label: "Basal ganglia", color: GREEN, values: aBasal },
    { label: "Spinal cord", color: SKY, values: aSpinal },
    { label: "Hypothalamus", color: AMBER, values: aHypothalamus },
    { label: "Hippocampus", color: YELLOW, values: aHippocampus },
    { label: "Amygdala", color: MAUVE, values: aAmygdala },
  ]);
  const cSets = stackDatasets([
    { label: "EUR", color: BLUE, values: cEUR },
    { label: "AFR", color: SKY, values: cAFR },
    { label: "EAS", color: GREEN, values: cEAS },
    { label: "AMR", color: AMBER, values: cAMR },
    { label: "SAS", color: RUST, values: cSAS },
  ]);
  const dSets = stackDatasets(
    [
      { label: "Cortex-EUR", color: BLUE, values: dCortexEUR },
      { label: "Cerebellum-EUR", color: RUST, values: dCerebellumEUR },
      { label: "Cortex-AFR", color: AFR_BLUE, values: dCortexAFR },
      { label: "Cortex-EAS", color: EAS_BLUE, values: dCortexEAS },
      { label: "Basal ganglia-EUR", color: GREEN, values: dBasalEUR },
      { label: "Hippocampus-EUR", color: YELLOW, values: dHippocampusEUR },
      { label: "Spinal cord-EUR", color: SKY, values: dSpinalEUR },
    ],
    dBarPositions
  );
  return (
    <div style={{ position: "absolute", left: 0, top: 0, width: 2167, height: 1104, overflow: "hidden", background: "#fff" }}>
      <BarPanel canvasTop={0} canvasHeight={330} sets={aSets} opts={{ top: 32, yMin: -76, yMax: 1686, yTicks: [0, 1500], title: ["Number of", "RNA-seq samples"], titlePad: 1, bottomSpace: 43 }} />
      <BarPanel canvasTop={330} canvasHeight={320} sets={cSets} opts={{ top: 37, yMin: -54.5, yMax: 1215, yTicks: [0, 1200], title: ["Number of", "individuals"], titlePad: 8.5, bottomSpace: 27 }} />
      <BarPanel canvasTop={650} canvasHeight={454} sets={dSets} opts={{ top: 38, yMin: -26.3, yMax: 586.8, yTicks: [0, 200, 400], title: ["Number of", "individuals"], titlePad: 18.5, showLabels: true, bottomSpace: 160 }} />
      <ScatterPanel />
      <SwatchLegend titleY={37} title="Brain region" names={aLegendNames} sizes={aLegendSizes} colors={aLegendColors} />
      <SwatchLegend titleY={374} title="Ancestry" names={cLegendNames} sizes={cLegendSizes} colors={cLegendColors} />
      <SwatchLegend titleY={695} title="eQTL dataset" names={dLegendNames} sizes={dLegendSizes} colors={dLegendColors} />
      <div style={{ ...textBase, left: 1274, top: 41.4 }}>Brain region</div>
      {bLegendNames.map((n, i) => {
        const y = 79.6 + i * 26.2;
        return (
          <React.Fragment key={n}>
            <div style={{ position: "absolute", left: 1276.5, top: y - 9.5, width: 19, height: 19, borderRadius: "50%", background: bLegendColors[i] }} />
            <div style={{ ...textBase, left: 1308.5, top: y - 11.6 }}>{n}</div>
          </React.Fragment>
        );
      })}
      {letter("a", 0, -3)}
      {letter("b", 1217, -3)}
      {letter("c", 0, 333)}
      {letter("d", 0, 662)}
    </div>
  );
}
